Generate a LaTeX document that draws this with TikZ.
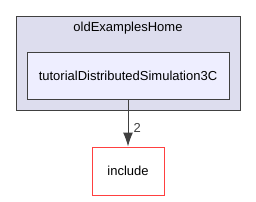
\documentclass[tikz,border=0pt]{standalone}
\usepackage{fontspec}
\setmainfont{Liberation Sans}
\usetikzlibrary{arrows.meta,positioning}
\definecolor{clusterfill}{HTML}{DDDDEE}
\definecolor{dirfill}{HTML}{EEEEFF}
\definecolor{edgegrey}{HTML}{404040}
\definecolor{incred}{HTML}{FF4040}
\begin{document}
\begin{tikzpicture}[x=1pt,y=-1pt]
\tikzset{lbl/.style={font=\fontsize{13}{15}\selectfont},
 dirbox/.style={draw=edgegrey,line width=1pt,fill=dirfill,lbl},
 incbox/.style={draw=incred,line width=1pt,fill=white,lbl,minimum width=72pt,minimum height=48pt}}
\useasboundingbox (0,0) rectangle (256,201);
\draw[edgegrey,line width=1pt,fill=clusterfill] (16,16) rectangle (240,110);
\node[lbl] (home) at (128,28.5) {oldExamplesHome};
\node[dirbox,minimum width=202pt,minimum height=47pt] (tut) at (128,75.5) {tutorialDistributedSimulation3C};
\node[incbox] (inc) at (128,171) {include};
\draw[edgegrey,line width=1pt,-{Latex[length=14pt,width=10pt]}] (tut) -- node[right,pos=0.6,lbl,inner sep=5pt] {2} (inc);
\end{tikzpicture}
\end{document}
